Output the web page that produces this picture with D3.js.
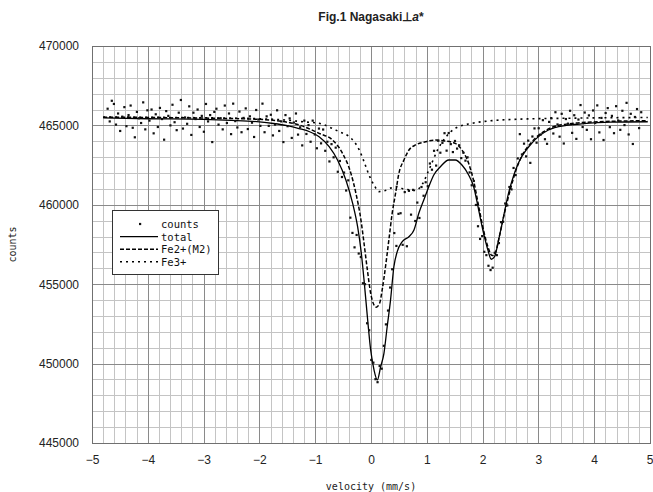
<!DOCTYPE html>
<html>
<head>
<meta charset="utf-8">
<script src="https://cdn.jsdelivr.net/npm/d3@7"></script>
<style>
  html, body { margin: 0; padding: 0; background: #fff; }
  svg { display: block; }
</style>
</head>
<body>
<svg id="chart" width="653" height="492"></svg>
<script>
// Mössbauer spectrum, Nagasaki sample, beam perpendicular to a*

// Velocity calibration of the folded spectrum (mm/s per channel)
const channelStart = -4.72;
const channelStep = 0.0375;

// Measured counts per channel
const counts = [
  466050,465250,466550,466350,465050,465750,464650,465550,466150,464950,
  465650,466250,464850,464250,465850,465450,465150,466450,464750,465950,
  465300,466000,464500,465700,464900,466100,465400,464100,465900,465600,
  465000,466300,465200,464700,465800,466600,464800,465500,465100,466200,
  464400,465800,465400,466000,464900,465600,464600,466350,465250,465650,
  463950,465850,466050,465050,465450,464750,466250,465150,465750,464450,
  466370,465270,464870,465870,464570,465470,466070,464770,465570,465170,
  464270,465970,465370,464970,466370,464570,465570,464970,465670,464370,
  465050,465950,464650,465250,463950,465650,464950,465440,464210,465180,
  465750,464420,464880,463740,465300,464460,465020,463970,465300,464430,
  463560,464800,463870,464740,463400,463970,462730,463820,462990,463600,
  462080,462760,461750,462030,460900,461540,459190,458230,457320,458100,
  456930,456710,455060,455000,452540,452100,450230,450060,449020,448830,
  449850,449680,451120,452470,453340,454790,455940,458220,457410,459430,
  459470,457480,460800,457390,460880,459380,460940,458980,460140,459170,
  461120,460570,461420,461170,462600,462210,463400,462470,464030,463280,
  463900,464510,463410,464520,463820,463320,464020,463540,463750,462940,
  463280,462780,462990,462040,461230,461500,459990,458650,457850,458030,
  457040,456830,456160,455890,456040,456980,456830,457590,458910,458930,
  460080,459960,461120,460970,462320,461870,462920,464450,463170,463850,
  463050,464040,462640,464300,464810,463910,464820,464430,465330,464130,
  463840,465220,465460,464490,465830,465060,464290,465730,463860,465400,
  465110,465920,464530,465640,464150,465370,466280,464900,465810,464720,
  465630,464130,465940,465150,466260,464560,465470,464080,465780,466090,
  464890,465600,464510,466210,465310,464720,465920,465020,466420,464430,
  465730,463830,465530,466030,464830,465830
];

// Fitted total spectrum
const totalVel = [-4.8,-4.0,-3.0,-2.5,-2.0,-1.75,-1.5,-1.29,-1.1,-0.93,-0.75,-0.6,-0.45,-0.33,-0.24,-0.18,-0.125,-0.065,-0.006,0.054,0.113,0.173,0.232,0.29,0.35,0.41,0.47,0.56,0.68,0.77,0.857,0.946,1.036,1.125,1.244,1.393,1.51,1.63,1.75,1.84,1.93,2.018,2.095,2.155,2.214,2.286,2.375,2.464,2.55,2.64,2.88,3.18,3.5,3.77,4.3,4.96];
const totalCounts = [465470,465420,465380,465320,465220,465120,464980,464800,464600,464290,463660,462820,461560,460100,458620,457150,455270,452950,450860,449600,448970,449800,450650,452320,454000,456100,457050,457680,457990,458410,459470,460300,461140,461880,462400,462820,462820,462510,461880,461140,459670,458200,457150,456570,456730,457780,459250,460720,461770,462610,463870,464710,465000,465090,465200,465230];

// Fe2+ (M2) doublet component
const fe2Vel = [-4.8,-4.0,-3.0,-2.0,-1.5,-1.29,-0.93,-0.69,-0.51,-0.36,-0.27,-0.18,-0.125,-0.065,-0.006,0.054,0.095,0.155,0.2,0.26,0.32,0.38,0.44,0.5,0.59,0.68,0.8,0.98,1.155,1.33,1.51,1.63,1.75,1.84,1.93,2.02,2.1,2.17,2.23,2.3,2.4,2.5,2.6,2.7,2.88,3.18,3.5,4.0,4.96];
const fe2Counts = [465520,465500,465460,465380,465200,465030,464500,464080,463240,461980,460720,459040,457580,455900,454430,453690,453550,453800,454640,456100,457780,459470,460720,461980,462820,463450,463770,463970,464080,464020,463870,463450,462610,461500,459900,458350,457300,456800,457000,458000,459600,461000,462200,463050,463950,464780,465080,465220,465300];

// Fe3+ doublet component
const fe3Vel = [-4.8,-4.0,-3.0,-2.0,-1.5,-1.2,-0.93,-0.75,-0.57,-0.39,-0.3,-0.21,-0.125,-0.036,0.054,0.143,0.25,0.35,0.47,0.58,0.68,0.8,0.92,1.05,1.2,1.35,1.51,1.81,2.17,2.64,3.5,4.96];
const fe3Counts = [465530,465510,465480,465420,465330,465220,465130,464900,464600,464290,463970,463450,462720,461880,461250,460830,460890,461050,461150,461000,460950,460900,461300,462300,463500,464300,464820,465130,465300,465390,465450,465500];

// Axis ticks
const xTicks = [-5,-4,-3,-2,-1,0,1,2,3,4,5];
const yTicks = [445000,450000,455000,460000,465000,470000];

const svg = d3.select("#chart");
const plotL = 92, plotR = 650, plotT = 46, plotB = 443;

const x = d3.scaleLinear().domain([-5, 5]).range([plotL, plotR]);
const y = d3.scaleLinear().domain([445000, 470000]).range([plotB, plotT]);

const crisp = v => Math.round(v) + 0.5;

// Grid: minor lines every 0.2 mm/s and 1000 counts, major at labelled ticks
const grid = svg.append("g").attr("shape-rendering", "crispEdges");
d3.range(-50, 51, 2).forEach(k => {
  if (k % 10 === 0) return;
  const v = k / 10;
  grid.append("line").attr("x1", crisp(x(v))).attr("x2", crisp(x(v)))
    .attr("y1", plotT).attr("y2", plotB).attr("stroke", "#c4c4c4").attr("stroke-width", 1);
});
d3.range(445, 471).forEach(k => {
  if (k % 5 === 0) return;
  const c = k * 1000;
  grid.append("line").attr("y1", crisp(y(c))).attr("y2", crisp(y(c)))
    .attr("x1", plotL).attr("x2", plotR).attr("stroke", "#c4c4c4").attr("stroke-width", 1);
});
xTicks.forEach(v => {
  grid.append("line").attr("x1", crisp(x(v))).attr("x2", crisp(x(v)))
    .attr("y1", plotT).attr("y2", plotB).attr("stroke", "#8a8a8a").attr("stroke-width", 1);
});
yTicks.forEach(c => {
  grid.append("line").attr("y1", crisp(y(c))).attr("y2", crisp(y(c)))
    .attr("x1", plotL).attr("x2", plotR).attr("stroke", "#8a8a8a").attr("stroke-width", 1);
});
grid.append("rect")
  .attr("x", crisp(plotL)).attr("y", crisp(plotT))
  .attr("width", Math.round(plotR) - Math.round(plotL)).attr("height", Math.round(plotB) - Math.round(plotT))
  .attr("fill", "none").attr("stroke", "#707070");

// Axes (labels only; gridlines carry the ticks)
const fmtX = d => d < 0 ? "\u2212" + Math.abs(d) : String(d);
const xAxis = d3.axisBottom(x).tickValues(xTicks).tickSize(0).tickPadding(12).tickFormat(fmtX);
const gx = svg.append("g").attr("transform", `translate(0,${plotB})`).call(xAxis);
gx.select(".domain").remove();
gx.selectAll("text").attr("font-family", "'Liberation Sans', Arial, sans-serif")
  .attr("font-size", 12).attr("fill", "#222");
// keep the last label inside the page edge
gx.selectAll(".tick").filter(d => d === 5).select("text")
  .attr("text-anchor", "end").attr("x", 3);

const yAxis = d3.axisLeft(y).tickValues(yTicks).tickSize(0).tickPadding(13).tickFormat(d3.format("d"));
const gy = svg.append("g").attr("transform", `translate(${plotL},0)`).call(yAxis);
gy.select(".domain").remove();
gy.selectAll("text").attr("font-family", "'Liberation Sans', Arial, sans-serif")
  .attr("font-size", 12).attr("fill", "#222");

// Fitted curves
const plot = svg.append("g");
function curve(vel, cnt, dash, width) {
  const pts = vel.map((v, i) => [v, cnt[i]]);
  plot.append("path")
    .attr("d", d3.line().x(d => x(d[0])).y(d => y(d[1])).curve(d3.curveMonotoneX)(pts))
    .attr("fill", "none").attr("stroke", "#000").attr("stroke-width", width)
    .attr("stroke-dasharray", dash);
}
curve(fe3Vel, fe3Counts, "2,4", 1.6);
curve(fe2Vel, fe2Counts, "4,2", 1.5);
curve(totalVel, totalCounts, null, 1.3);

// Measured counts
plot.selectAll("rect.pt").data(counts).join("rect")
  .attr("class", "pt")
  .attr("x", (d, i) => x(channelStart + i * channelStep) - 1.1)
  .attr("y", d => y(d) - 1.1)
  .attr("width", 2.2).attr("height", 2.2)
  .attr("fill", "#111");

// Legend
const lg = svg.append("g").attr("transform", "translate(112,210)");
lg.append("rect").attr("x", 0.5).attr("y", 0.5).attr("width", 106).attr("height", 64)
  .attr("fill", "#fff").attr("stroke", "#333");
const legendItems = [
  { label: "counts", type: "dot" },
  { label: "total", dash: null },
  { label: "Fe2+(M2)", dash: "4,2" },
  { label: "Fe3+", dash: "2,4" }
];
legendItems.forEach((it, i) => {
  const cy = 14 + i * 12.6;
  if (it.type === "dot") {
    lg.append("rect").attr("x", 27).attr("y", cy - 1.1).attr("width", 2.2).attr("height", 2.2).attr("fill", "#111");
  } else {
    lg.append("line").attr("x1", 8).attr("x2", 46).attr("y1", cy).attr("y2", cy)
      .attr("stroke", "#000").attr("stroke-width", it.dash ? 1.5 : 1.3)
      .attr("stroke-dasharray", it.dash);
  }
  lg.append("text").attr("x", 49).attr("y", cy + 4)
    .attr("font-family", "'DejaVu Sans Mono', 'Liberation Mono', monospace")
    .attr("font-size", 10.5).attr("fill", "#111").text(it.label);
});

// Titles
const title = svg.append("text").attr("x", (plotL + plotR) / 2).attr("y", 21)
  .attr("text-anchor", "middle").attr("font-family", "'Liberation Sans', Arial, sans-serif")
  .attr("font-size", 12).attr("font-weight", "bold").attr("fill", "#222");
title.append("tspan").text("Fig.1 Nagasaki\u22a5");
title.append("tspan").attr("font-style", "italic").text("a");
title.append("tspan").text("*");

svg.append("text").attr("x", (plotL + plotR) / 2).attr("y", 490)
  .attr("text-anchor", "middle")
  .attr("font-family", "'DejaVu Sans Mono', 'Liberation Mono', monospace")
  .attr("font-size", 10).attr("fill", "#222").text("velocity (mm/s)");

svg.append("text").attr("transform", `translate(16,${(plotT + plotB) / 2}) rotate(-90)`)
  .attr("text-anchor", "middle")
  .attr("font-family", "'DejaVu Sans Mono', 'Liberation Mono', monospace")
  .attr("font-size", 10).attr("fill", "#222").text("counts");
</script>
</body>
</html>
